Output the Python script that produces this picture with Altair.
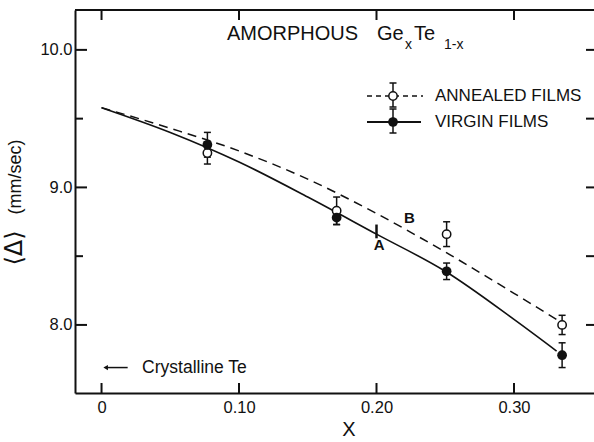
import altair as alt
import pandas as pd

# Amorphous Ge_x Te_1-x : mean quadrupole splitting <Delta> vs composition x
annealed_x = [0.077, 0.171, 0.251, 0.335]
annealed_y = [9.25, 8.83, 8.66, 8.00]
annealed_err = [0.08, 0.10, 0.09, 0.07]

virgin_x = [0.077, 0.171, 0.251, 0.335]
virgin_y = [9.31, 8.78, 8.39, 7.78]
virgin_err = [0.09, 0.05, 0.06, 0.09]

# guide curves: A (virgin, solid) and B (annealed, dashed)
curve_a_x = [0.0, 0.05, 0.10, 0.15, 0.20, 0.25, 0.30, 0.331]
curve_a_y = [9.58, 9.40, 9.185, 8.93, 8.66, 8.39, 8.04, 7.81]
curve_b_x = [0.0, 0.05, 0.10, 0.15, 0.20, 0.25, 0.30, 0.331]
curve_b_y = [9.58, 9.43, 9.265, 9.06, 8.81, 8.53, 8.23, 8.04]

x_ticks = [0.0, 0.1, 0.2, 0.3]
y_major = [8.0, 9.0, 10.0]
y_minor = [8.5, 9.5]

# annotation anchors (data units)
mark_a_x, mark_a_lo, mark_a_hi = 0.2, 8.63, 8.73
label_a = (0.202, 8.58, "A")
label_b = (0.224, 8.78, "B")
cryst_te_y = 7.69
cryst_arrow = (0.003, 0.019)
cryst_label_x = 0.0295

W, H = 519, 383
FONT = "Liberation Sans"
BLACK = "#111111"

xs = alt.Scale(domain=[-0.0193, 0.3582], nice=False, zero=False)
ys = alt.Scale(domain=[7.505, 10.29], nice=False, zero=False)

x_axis = alt.Axis(
    values=x_ticks,
    labelExpr="datum.value == 0 ? '0' : format(datum.value, '.2f')",
    ticks=False, grid=False, domainColor=BLACK, domainWidth=2,
    labelFont=FONT, labelFontSize=16.5, labelColor=BLACK, labelPadding=6,
    labelOverlap=False, title=None,
)
y_axis = alt.Axis(
    values=y_major, format=".1f",
    ticks=False, grid=False, domainColor=BLACK, domainWidth=2,
    labelFont=FONT, labelFontSize=16.5, labelColor=BLACK, labelPadding=3,
    labelOverlap=False, title=None,
)


def X(field):
    return alt.X(f"{field}:Q", scale=xs, axis=x_axis)


def Y(field):
    return alt.Y(f"{field}:Q", scale=ys, axis=y_axis)


one = pd.DataFrame({"k": [0]})

ann = pd.DataFrame({"x": annealed_x, "y": annealed_y, "e": annealed_err})
ann["lo"] = ann["y"] - ann["e"]
ann["hi"] = ann["y"] + ann["e"]
vir = pd.DataFrame({"x": virgin_x, "y": virgin_y, "e": virgin_err})
vir["lo"] = vir["y"] - vir["e"]
vir["hi"] = vir["y"] + vir["e"]

curve_a = pd.DataFrame({"x": curve_a_x, "y": curve_a_y})
curve_b = pd.DataFrame({"x": curve_b_x, "y": curve_b_y})

layers = []

# frame: top edge and inward tick marks
layers.append(alt.Chart(one).mark_rule(color=BLACK, strokeWidth=2).encode(
    x=alt.value(0), x2=alt.value(W), y=alt.value(0)))
xt = pd.DataFrame({"x": x_ticks})
layers.append(alt.Chart(xt).mark_rule(color=BLACK, strokeWidth=2).encode(
    x=X("x"), y=alt.value(H), y2=alt.value(H - 10)))
layers.append(alt.Chart(xt).mark_rule(color=BLACK, strokeWidth=2).encode(
    x=X("x"), y=alt.value(0), y2=alt.value(10)))
ymj = pd.DataFrame({"y": y_major})
ymn = pd.DataFrame({"y": y_minor})
yall = pd.DataFrame({"y": y_major + y_minor})
layers.append(alt.Chart(ymj).mark_rule(color=BLACK, strokeWidth=2).encode(
    y=Y("y"), x=alt.value(0), x2=alt.value(12)))
layers.append(alt.Chart(ymn).mark_rule(color=BLACK, strokeWidth=2).encode(
    y=Y("y"), x=alt.value(0), x2=alt.value(8)))
layers.append(alt.Chart(yall).mark_rule(color=BLACK, strokeWidth=2).encode(
    y=Y("y"), x=alt.value(W), x2=alt.value(W - 8)))

# guide curves
layers.append(alt.Chart(curve_b).mark_line(
    color=BLACK, strokeWidth=1.5, strokeDash=[9, 6], interpolate="monotone"
).encode(x=X("x"), y=Y("y")))
layers.append(alt.Chart(curve_a).mark_line(
    color=BLACK, strokeWidth=1.6, interpolate="monotone"
).encode(x=X("x"), y=Y("y")))

# marker A on curve A
layers.append(alt.Chart(pd.DataFrame({"x": [mark_a_x], "lo": [mark_a_lo], "hi": [mark_a_hi]}))
              .mark_rule(color=BLACK, strokeWidth=2.5)
              .encode(x=X("x"), y=Y("lo"), y2="hi"))
lab = pd.DataFrame({"x": [label_a[0], label_b[0]], "y": [label_a[1], label_b[1]],
                    "t": [label_a[2], label_b[2]]})
layers.append(alt.Chart(lab).mark_text(font=FONT, fontSize=15, fontWeight="bold",
                                       color=BLACK, baseline="middle")
              .encode(x=X("x"), y=Y("y"), text="t:N"))

# error bars with caps
for df in (ann, vir):
    layers.append(alt.Chart(df).mark_rule(color=BLACK, strokeWidth=1.5)
                  .encode(x=X("x"), y=Y("lo"), y2="hi"))
    for end in ("lo", "hi"):
        layers.append(alt.Chart(df).mark_rule(color=BLACK, strokeWidth=1.5,
                                              xOffset=-3.5, x2Offset=3.5)
                      .encode(x=X("x"), x2="x", y=Y(end)))

# data points
layers.append(alt.Chart(ann).mark_point(shape="circle", filled=True, fill="white",
                                        stroke=BLACK, strokeWidth=1.5, size=70, opacity=1)
              .encode(x=X("x"), y=Y("y")))
layers.append(alt.Chart(vir).mark_point(shape="circle", filled=True, color=BLACK,
                                        size=95, opacity=1)
              .encode(x=X("x"), y=Y("y")))

# crystalline Te reference arrow
arr = pd.DataFrame({"x0": [cryst_arrow[0]], "x1": [cryst_arrow[1]], "y": [cryst_te_y]})
layers.append(alt.Chart(arr).mark_rule(color=BLACK, strokeWidth=1.5)
              .encode(x=X("x0"), x2="x1", y=Y("y")))
layers.append(alt.Chart(arr).mark_point(shape="triangle-left", filled=True, color=BLACK,
                                        size=28, opacity=1)
              .encode(x=X("x0"), y=Y("y")))
layers.append(alt.Chart(pd.DataFrame({"x": [cryst_label_x], "y": [cryst_te_y],
                                      "t": ["Crystalline  Te"]}))
              .mark_text(font=FONT, fontSize=17.5, color=BLACK, align="left",
                         baseline="middle")
              .encode(x=X("x"), y=Y("y"), text="t:N"))

# legend
lx = 393 - 75
layers.append(alt.Chart(one).mark_rule(color=BLACK, strokeWidth=1.5, strokeDash=[5, 4])
              .encode(x=alt.value(292), x2=alt.value(348), y=alt.value(86)))
layers.append(alt.Chart(one).mark_rule(color=BLACK, strokeWidth=1.8)
              .encode(x=alt.value(292), x2=alt.value(346), y=alt.value(112)))
for yc, top, bot in ((86, 73, 97), (112, 99, 123)):
    layers.append(alt.Chart(one).mark_rule(color=BLACK, strokeWidth=1.5)
                  .encode(x=alt.value(lx), y=alt.value(top), y2=alt.value(bot)))
    for yy in (top, bot):
        layers.append(alt.Chart(one).mark_rule(color=BLACK, strokeWidth=1.5)
                      .encode(x=alt.value(lx - 3.5), x2=alt.value(lx + 3.5), y=alt.value(yy)))
layers.append(alt.Chart(one).mark_point(shape="circle", filled=True, fill="white",
                                        stroke=BLACK, strokeWidth=1.5, size=70, opacity=1)
              .encode(x=alt.value(lx), y=alt.value(86)))
layers.append(alt.Chart(one).mark_point(shape="circle", filled=True, color=BLACK,
                                        size=95, opacity=1)
              .encode(x=alt.value(lx), y=alt.value(112)))
for yy, txt in ((86, "ANNEALED FILMS"), (112, "VIRGIN FILMS")):
    layers.append(alt.Chart(one).mark_text(font=FONT, fontSize=17, color=BLACK,
                                           align="left", baseline="middle")
                  .encode(x=alt.value(360), y=alt.value(yy), text=alt.value(txt)))

# heading: AMORPHOUS Ge_x Te_1-x
for xx, yy, size, txt in ((152, 30, 20, "AMORPHOUS"), (302, 30, 20, "Ge"),
                          (330, 39, 14, "x"), (339, 30, 20, "Te"),
                          (369, 39, 14, "1-x")):
    layers.append(alt.Chart(one).mark_text(font=FONT, fontSize=size, color=BLACK,
                                           align="left", baseline="alphabetic")
                  .encode(x=alt.value(xx), y=alt.value(yy), text=alt.value(txt)))

# axis titles
layers.append(alt.Chart(one).mark_text(font="DejaVu Sans", fontSize=24, color=BLACK,
                                       angle=270, baseline="middle")
              .encode(x=alt.value(-60), y=alt.value(238), text=alt.value("⟨Δ⟩")))
layers.append(alt.Chart(one).mark_text(font=FONT, fontSize=18, color=BLACK,
                                       angle=270, baseline="middle")
              .encode(x=alt.value(-59), y=alt.value(167), text=alt.value("(mm/sec)")))
layers.append(alt.Chart(one).mark_text(font=FONT, fontSize=20, color=BLACK,
                                       baseline="middle")
              .encode(x=alt.value(274), y=alt.value(420), text=alt.value("X")))

chart = alt.layer(*layers).properties(
    width=W, height=H,
    padding={"left": 75, "top": 10, "right": 0, "bottom": 49},
    autosize=alt.AutoSizeParams(type="none"),
).configure_view(stroke=None).configure_axis(grid=False)

chart.save("out.html", embed_options={"renderer": "svg", "actions": False})
